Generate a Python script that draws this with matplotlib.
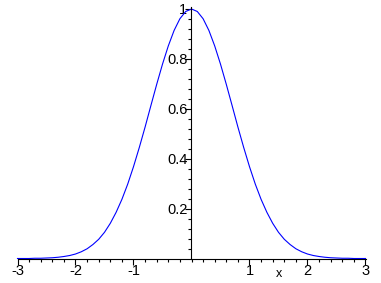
import numpy as np
import matplotlib
matplotlib.use("Agg")
import matplotlib.pyplot as plt

# curve, x from -3 to 3 in steps of 0.1
x_vals = np.linspace(-3, 3, 61)
y_vals = [0.000, 0.000, 0.000, 0.001, 0.001, 0.002, 0.003, 0.005, 0.008, 0.012,
          0.018, 0.027, 0.039, 0.056, 0.077, 0.105, 0.141, 0.185, 0.237, 0.298,
          0.368, 0.445, 0.527, 0.613, 0.698, 0.779, 0.852, 0.914, 0.961, 0.990,
          1.000,
          0.990, 0.961, 0.914, 0.852, 0.779, 0.698, 0.613, 0.527, 0.445, 0.368,
          0.298, 0.237, 0.185, 0.141, 0.105, 0.077, 0.056, 0.039, 0.027, 0.018,
          0.012, 0.008, 0.005, 0.003, 0.002, 0.001, 0.001, 0.000, 0.000, 0.000]

x_ticks = [-3, -2, -1, 1, 2, 3]
x_labels = ["-3", "-2", "-1", "1", "2", "3"]
y_ticks = [0.2, 0.4, 0.6, 0.8, 1]
y_labels = ["0.2", "0.4", "0.6", "0.8", "1"]

plt.rcParams['font.family'] = ['Liberation Sans', 'DejaVu Sans']

fig = plt.figure(figsize=(3.81, 2.83), dpi=100)
ax = fig.add_axes([17.5 / 381, 24.5 / 283, 348 / 381, 249.5 / 283])

ax.plot(x_vals, y_vals, color="#0000ff", lw=0.8, clip_on=False)

ax.set_xlim(-3, 3)
ax.set_ylim(0, 1)
ax.spines['top'].set_visible(False)
ax.spines['right'].set_visible(False)
ax.spines['left'].set_position(('data', 0))
ax.spines['bottom'].set_position(('data', 0))
ax.spines['left'].set_bounds(0, 1.01)
for s in ['left', 'bottom']:
    ax.spines[s].set_linewidth(0.8)

ax.set_xticks(x_ticks)
ax.set_xticklabels(x_labels)
ax.set_xticks(np.arange(-3, 3.01, 0.2), minor=True)
ax.set_yticks(y_ticks)
ax.set_yticklabels(y_labels)
ax.set_yticks(np.arange(0.04, 1.0, 0.04), minor=True)

ax.tick_params(axis='both', which='major', length=4, width=0.8, labelsize=10.5, direction='out')
ax.tick_params(axis='both', which='minor', length=2.5, width=0.8, direction='out')
ax.tick_params(axis='x', pad=0)
ax.tick_params(axis='y', pad=-1)

ax.text(1.51, -0.064, "x", fontsize=9, ha='center', va='center')

fig.savefig("out.png", dpi=100)
